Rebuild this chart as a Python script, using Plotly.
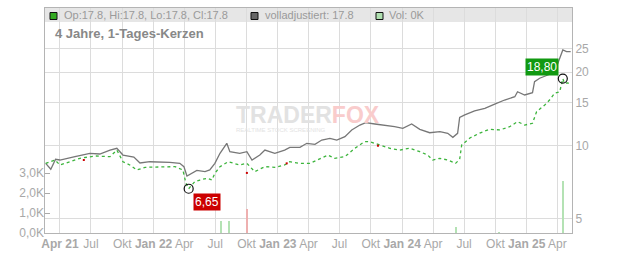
import math
import plotly.graph_objects as go

# --- data ---
adj_dates = ["2021-02-18", "2021-03-05", "2021-03-19", "2021-04-01", "2021-05-15", "2021-06-28",
             "2021-07-27", "2021-08-26", "2021-09-15", "2021-10-03", "2021-11-04", "2021-11-22",
             "2021-12-21", "2022-01-20", "2022-02-18", "2022-03-19", "2022-03-31", "2022-04-09",
             "2022-04-23", "2022-05-08", "2022-06-01", "2022-06-15", "2022-06-30", "2022-07-15",
             "2022-08-04", "2022-08-13", "2022-09-11", "2022-10-02", "2022-10-17", "2022-11-09",
             "2022-11-24", "2022-12-23", "2023-01-21", "2023-02-05", "2023-03-07", "2023-03-27",
             "2023-04-20", "2023-05-10", "2023-06-03", "2023-06-23", "2023-07-17", "2023-08-06",
             "2023-08-30", "2023-09-16", "2023-10-13", "2023-11-11", "2023-12-10", "2024-01-03",
             "2024-01-29", "2024-02-22", "2024-03-22", "2024-04-21", "2024-05-14", "2024-05-29",
             "2024-06-12", "2024-06-18", "2024-07-03", "2024-08-01", "2024-08-31", "2024-09-29",
             "2024-10-28", "2024-11-27", "2024-12-05", "2024-12-26", "2025-01-18", "2025-01-24",
             "2025-02-08", "2025-03-04", "2025-03-24", "2025-04-08", "2025-04-17", "2025-04-28",
             "2025-05-10"]
adj_values = [8.45, 7.99, 8.78, 8.72, 9.01, 9.29,
              9.23, 9.58, 9.74, 9.14, 8.97, 8.48,
              8.58, 8.58, 8.53, 8.45, 8.19, 7.50,
              7.69, 7.90, 7.81, 7.94, 8.45, 9.29,
              10.21, 9.43, 9.29, 9.43, 8.72, 9.14,
              9.58, 9.29, 9.58, 9.83, 9.83, 10.21,
              10.11, 10.53, 10.70, 10.53, 10.87, 11.58,
              12.13, 12.40, 12.25, 12.13, 11.94, 11.76,
              12.25, 11.65, 11.28, 11.39, 11.22, 10.80,
              11.22, 13.02, 13.34, 13.85, 14.21, 14.79,
              15.36, 15.85, 16.61, 16.11, 16.46, 18.26,
              18.86, 19.45, 20.07, 22.77, 24.63, 24.24,
              24.24]

close_dates = ["2021-02-18", "2021-03-17", "2021-04-01", "2021-04-30", "2021-05-30", "2021-07-13",
               "2021-08-26", "2021-09-15", "2021-10-03", "2021-10-23", "2021-11-13", "2021-12-07",
               "2022-01-20", "2022-03-05", "2022-03-28", "2022-04-06", "2022-04-14", "2022-05-02",
               "2022-05-17", "2022-06-07", "2022-06-21", "2022-06-30", "2022-07-15", "2022-07-30",
               "2022-08-08", "2022-09-11", "2022-10-02", "2022-10-25", "2022-11-24", "2022-12-23",
               "2023-01-21", "2023-02-05", "2023-03-07", "2023-04-05", "2023-04-28", "2023-05-28",
               "2023-06-17", "2023-07-17", "2023-08-15", "2023-09-13", "2023-09-28", "2023-10-27",
               "2023-11-26", "2023-12-25", "2024-01-23", "2024-02-22", "2024-03-16", "2024-03-31",
               "2024-04-21", "2024-05-14", "2024-05-29", "2024-06-06", "2024-06-18", "2024-06-24",
               "2024-07-18", "2024-08-16", "2024-09-14", "2024-10-14", "2024-11-12", "2024-12-05",
               "2024-12-26", "2025-01-18", "2025-01-30", "2025-02-23", "2025-03-09", "2025-03-24",
               "2025-04-08", "2025-04-17", "2025-04-22", "2025-05-01", "2025-05-10"]
close_values = [8.45, 8.72, 8.32, 8.58, 8.86, 9.06,
                9.00, 9.58, 8.58, 8.32, 7.94, 8.14,
                8.19, 8.19, 7.94, 7.00, 6.65, 7.11,
                7.22, 7.34, 7.22, 7.69, 8.19, 8.45,
                8.58, 8.32, 8.45, 7.81, 8.19, 8.14,
                8.32, 8.58, 8.45, 8.45, 8.72, 9.14,
                8.86, 9.00, 9.74, 10.37, 10.37, 10.05,
                9.74, 9.58, 9.74, 9.43, 9.14, 8.72,
                8.86, 8.72, 8.58, 8.45, 8.78, 10.05,
                10.73, 11.25, 11.65, 11.58, 11.94, 12.52,
                12.13, 12.33, 13.76, 14.66, 15.36, 16.37,
                16.61, 18.80, 17.99, 18.06, 17.80]

red_dates = ["2021-06-10", "2022-10-02", "2023-01-27", "2023-10-22"]
red_values = [8.72, 7.72, 8.45, 9.98]

vol_dates = ["2022-07-19", "2022-08-10", "2022-10-02", "2024-06-06", "2024-10-12", "2025-04-17"]
vol_values = [600, 600, 1200, 280, 50, 2580]
vol_colors = ["#b4e2b4", "#b4e2b4", "#eeb0b0", "#b4e2b4", "#b4e2b4", "#b4e2b4"]

low_date, low_value, low_label = "2022-04-14", 6.65, "6,65"
high_date, high_value, high_label = "2025-04-17", 18.80, "18,80"

x_tickvals = ["2021-04-01", "2021-07-01", "2021-10-01", "2022-01-01", "2022-04-01", "2022-07-01",
              "2022-10-01", "2023-01-01", "2023-04-01", "2023-07-01", "2023-10-01", "2024-01-01",
              "2024-04-01", "2024-07-01", "2024-10-01", "2025-01-01", "2025-04-01"]
x_ticktext = ["<b>Apr 21</b>", "Jul", "Okt", "<b>Jan 22</b>", "Apr", "Jul",
              "Okt", "<b>Jan 23</b>", "Apr", "Jul", "Okt", "<b>Jan 24</b>",
              "Apr", "Jul", "Okt", "<b>Jan 25</b>", "Apr"]
price_ticks = [5, 10, 15, 20, 25]
vol_ticks = [0, 1000, 2000, 3000]
vol_ticktext = ["0,0K", "1,0K", "2,0K", "3,0K"]

legend_texts = ["Op:17.8, Hi:17.8, Lo:17.8, Cl:17.8", "volladjustiert: 17.8", "Vol: 0K"]
subtitle = "4 Jahre, 1-Tages-Kerzen"

# --- layout geometry (px) ---
W, H = 632, 253
L, R, T, B = 45, 60, 8, 20
PW, PH = W - L - R, H - T - B


def px_x(px):
    return (px - L) / PW


def px_y(py):
    return (H - B - py) / PH


FONT = "Liberation Sans, Arial, sans-serif"
GRID = "#dcdcdc"
TXT = "#a0a0a0"

fig = go.Figure()

fig.add_trace(go.Bar(x=vol_dates, y=vol_values, yaxis="y2", marker_color=vol_colors,
                     marker_line_width=0, width=86400000 * 2.6, showlegend=False,
                     hoverinfo="skip"))
fig.add_trace(go.Scatter(x=adj_dates, y=adj_values, mode="lines",
                         line=dict(color="#777777", width=1.3), showlegend=False))
fig.add_trace(go.Scatter(x=close_dates, y=close_values, mode="lines",
                         line=dict(color="#3cb43c", width=1.3, dash="dot"), showlegend=False))
fig.add_trace(go.Scatter(x=red_dates, y=red_values, mode="markers",
                         marker=dict(color="#cc0000", size=2, symbol="square"), showlegend=False))
fig.add_trace(go.Scatter(x=[low_date, high_date], y=[low_value, high_value], mode="markers",
                         marker=dict(size=9, color="rgba(0,0,0,0)",
                                     line=dict(color="#111111", width=1.2)),
                         showlegend=False))

shapes = [
    dict(type="rect", xref="paper", yref="paper", x0=0, x1=1, y0=px_y(22), y1=1,
         fillcolor="#e6e6e6", line_width=0, layer="below"),
]
sq = [(50, "#33aa22"), (251, "#666666"), (376, "#b0e0b0")]
for x0, c in sq:
    shapes.append(dict(type="rect", xref="paper", yref="paper",
                       x0=px_x(x0), x1=px_x(x0 + 7), y0=px_y(19.5), y1=px_y(12.5),
                       fillcolor=c, line=dict(color="#111111", width=1), layer="above"))

annotations = []
for xpx, t in zip([62, 263, 387], legend_texts):
    annotations.append(dict(xref="paper", yref="paper", x=px_x(xpx), y=px_y(15.5),
                            xanchor="left", yanchor="middle", text=t, showarrow=False,
                            font=dict(family=FONT, size=11, color="#9a9a9a")))
annotations.append(dict(xref="paper", yref="paper", x=px_x(53), y=px_y(34),
                        xanchor="left", yanchor="middle", text="<b>" + subtitle + "</b>",
                        showarrow=False, font=dict(family=FONT, size=13, color="#888888")))
# watermark
annotations.append(dict(xref="paper", yref="paper", x=px_x(308), y=px_y(115),
                        xanchor="center", yanchor="middle",
                        text="<b><span style='color:#e2e2e2'>TRADER</span>"
                             "<span style='color:#f9cccc'>FOX</span></b>",
                        showarrow=False, font=dict(family=FONT, size=23)))
annotations.append(dict(xref="paper", yref="paper", x=px_x(280), y=px_y(129.5),
                        xanchor="center", yanchor="middle",
                        text="REALTIME STOCK SCREENING", showarrow=False,
                        font=dict(family=FONT, size=6, color="#e3e3e3")))
# low / high labels
annotations.append(dict(x=low_date, y=math.log10(low_value), xref="x", yref="y",
                        xanchor="left", yanchor="top", xshift=4, yshift=-4,
                        text=low_label, showarrow=False, bgcolor="#cc0000", borderpad=1,
                        font=dict(family=FONT, size=12, color="#ffffff")))
annotations.append(dict(x=high_date, y=math.log10(high_value), xref="x", yref="y",
                        xanchor="right", yanchor="bottom", xshift=-4, yshift=3,
                        text=high_label, showarrow=False, bgcolor="#119911", borderpad=1,
                        font=dict(family=FONT, size=12, color="#ffffff")))

fig.update_layout(
    width=W, height=H, margin=dict(l=L, r=R, t=T, b=B, autoexpand=False),
    paper_bgcolor="white", plot_bgcolor="white",
    font=dict(family=FONT, size=12, color=TXT),
    showlegend=False, bargap=0,
    shapes=shapes, annotations=annotations,
    xaxis=dict(type="date", range=["2021-02-16", "2025-05-14"], automargin=False,
               tickvals=x_tickvals, ticktext=x_ticktext, tickangle=0,
               showgrid=True, gridcolor=GRID, gridwidth=1,
               showline=True, linecolor="#b4b4b4", linewidth=1, mirror=True,
               ticks="", tickfont=dict(family=FONT, size=12, color="#a8a8a8"),
               zeroline=False),
    yaxis=dict(type="log", side="right", range=[0.6414, 1.5635], automargin=False,
               tickvals=price_ticks, ticktext=[str(v) for v in price_ticks],
               showgrid=True, gridcolor=GRID, gridwidth=1,
               showline=True, linecolor="#b4b4b4", linewidth=1, mirror=True,
               ticks="", tickfont=dict(family=FONT, size=12, color="#a8a8a8"),
               zeroline=False),
    yaxis2=dict(overlaying="y", side="left", range=[0, 11250], automargin=False,
                tickvals=vol_ticks, ticktext=vol_ticktext, showgrid=False,
                ticks="inside", ticklen=5, tickcolor="#aaaaaa",
                tickfont=dict(family=FONT, size=12, color="#a8a8a8"),
                showline=False, zeroline=False),
)

fig.write_html("out.html")
